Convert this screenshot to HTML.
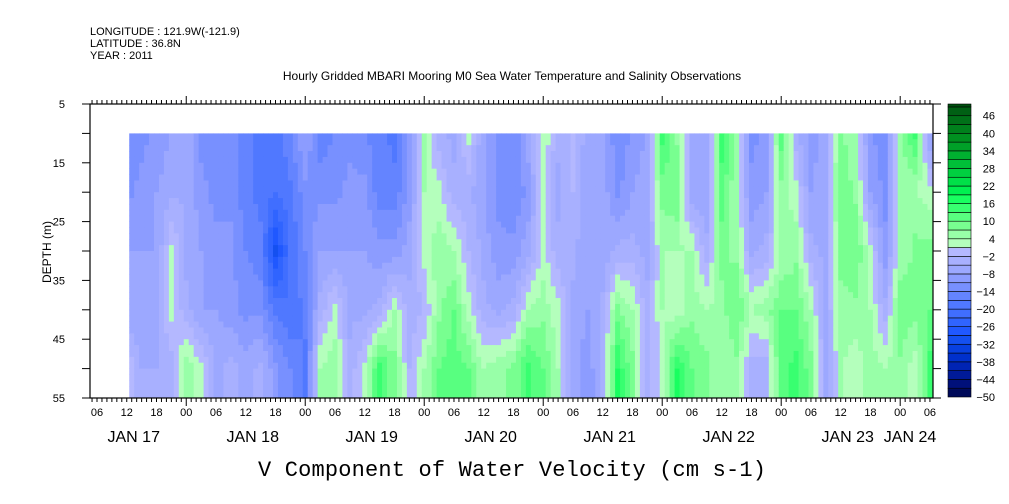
<!DOCTYPE html>
<html><head><meta charset="utf-8"><style>
body{margin:0;background:#fff;}
svg{display:block;font-family:"Liberation Sans",sans-serif;}
</style></head><body>
<svg id="chart" width="1009" height="504" viewBox="0 0 1009 504" xmlns="http://www.w3.org/2000/svg">
<text x="90" y="35" font-size="11">LONGITUDE : 121.9W(-121.9)</text>
<text x="90" y="47" font-size="11">LATITUDE : 36.8N</text>
<text x="90" y="59" font-size="11">YEAR : 2011</text>
<text x="512" y="80" font-size="12" text-anchor="middle">Hourly Gridded MBARI Mooring M0 Sea Water Temperature and Salinity Observations</text>
<text transform="translate(51,252) rotate(-90)" font-size="12" text-anchor="middle">DEPTH (m)</text>
<text x="512" y="476" font-size="22" font-family="Liberation Mono, monospace" text-anchor="middle" textLength="508">V Component of Water Velocity (cm s-1)</text>
<g id="cells"></g>
<g id="axes"></g>
<g id="cbar"></g>
</svg>
<script>
// hours since Jan 17 00:00, one column every 3 h
const colHours = [];
for (let i = 0; i < 55; i++) colHours.push(12 + 3 * i);
const depths = [10, 20, 30, 40, 50];
const v10 = [-14,-12,-10,-8,-6,-12,-14,-12,-16,-18,-20,-14,-8,-16,-14,-12,-14,-16,-18,-10,4,-4,-6,2,-8,-12,-14,-6,4,-4,-2,-6,-6,-14,-10,-8,14,6,-6,-8,14,6,-12,-10,12,-4,-10,-6,8,4,-10,-14,6,14,-8];
const v20 = [-12,-10,-8,-6,-5,-10,-12,-12,-16,-18,-20,-18,-12,-12,-12,-10,-10,-16,-16,-10,4,2,-4,-4,-8,-12,-14,-10,2,-6,-2,-8,-6,-12,-8,-6,8,10,-8,-8,12,4,-10,-8,6,2,-8,-6,10,6,-8,-12,4,4,2];
const v30 = [-8,-8,-8,2,-6,-8,-10,-10,-14,-16,-30,-20,-14,-8,-8,-8,-8,-10,-10,-6,2,6,4,-2,-6,-10,-10,-6,2,-4,-4,-8,-8,-4,-4,-6,4,4,4,-4,8,6,-6,-4,4,6,-4,-6,8,10,2,-10,4,8,8];
const v40 = [-8,-8,-6,2,-4,-8,-8,-10,-12,-12,-18,-20,-16,-4,2,-6,-6,-4,4,-4,-2,6,10,2,-4,-6,-4,4,6,2,-6,-8,-4,8,4,-4,4,2,6,4,6,10,4,6,10,10,4,-6,6,6,4,-4,10,8,10];
const v50 = [2,-5,-5,-4,6,2,-6,-4,-6,-4,-10,-14,-18,4,6,-4,2,14,8,-2,4,10,12,10,4,6,8,14,10,4,-6,-10,-4,16,8,-4,2,16,10,8,4,6,-4,-4,12,14,8,-6,4,2,6,4,6,2,14];
const rows = [v10, v20, v30, v40, v50];
const yTicks = [5, 15, 25, 35, 45, 55];
const dayLabels = ['JAN 17','JAN 18','JAN 19','JAN 20','JAN 21','JAN 22','JAN 23','JAN 24'];
const cbLabels = [-50,-44,-38,-32,-26,-20,-14,-8,-2,4,10,16,22,28,34,40,46];

const NS = 'http://www.w3.org/2000/svg';
const X0 = 90, X1 = 933, Y0 = 104, Y1 = 398;
const xs = h => 67.25 + 4.958 * h;
const ys = d => Y0 + (d - 5) * (Y1 - Y0) / 50;
const H0 = 12.5, H1 = (X1 - 67.25) / 4.958;

const palette = ['#000a5a','#00107a','#001a98','#0024b4','#0030cc','#0840e0','#1450f0','#2058ff','#3064ff','#406eff','#5078ff','#6484ff','#7890ff','#8c9cff','#9ca8ff','#a8b0ff','#b4b8ff','#b4ffbc','#98ffa8','#78ff90','#58ff80','#38ff70','#18ff60','#00f050','#00e048','#00d040','#00c038','#00b030','#00a028','#009020','#00801c','#007018','#006014','#005010'];
function color(v){
  let k = Math.floor((v + 50) / 3);
  k = Math.max(0, Math.min(palette.length - 1, k));
  return palette[k];
}
function mk(tag, attrs, parent){ const e = document.createElementNS(NS, tag); for (const k in attrs) e.setAttribute(k, attrs[k]); parent.appendChild(e); return e; }

const cells = document.getElementById('cells');
function valAt(i, d){
  if (d <= depths[0]) return rows[0][i];
  for (let k = 0; k < depths.length - 1; k++) if (d <= depths[k+1]) { const t = (d - depths[k]) / (depths[k+1] - depths[k]); return rows[k][i] + (rows[k+1][i] - rows[k][i]) * t; }
  return rows[rows.length-1][i];
}
function valHD(h, d){
  const f = (h - colHours[0]) / 3;
  let i = Math.floor(f);
  if (i < 0) return valAt(0, d);
  if (i >= colHours.length - 1) return valAt(colHours.length - 1, d);
  const t = f - i;
  return valAt(i, d) * (1 - t) + valAt(i + 1, d) * t;
}
for (let h = H0; h < H1; h += 1) {
  const hb = Math.min(H1, h + 1);
  for (let d = 10; d < 55; d += 1) {
    const r = mk('rect', {x: xs(h).toFixed(2), y: ys(d).toFixed(2), width: (xs(hb) - xs(h) + 0.4).toFixed(2), height: (ys(d+1) - ys(d) + 0.4).toFixed(2), fill: color(valHD(h + 0.5, d + 0.5))}, cells);
    
    
  }
}

const ax = document.getElementById('axes');
const frame = mk('rect', {x: X0, y: Y0, width: X1 - X0, height: Y1 - Y0, fill: 'none', stroke: '#000', 'stroke-width': 1.2}, ax);


for (let d = 5; d <= 55; d += 5) {
  const y = ys(d);
  mk('line', {x1: X0 - 8, x2: X0, y1: y, y2: y, stroke: '#000'}, ax);
  mk('line', {x1: X1, x2: X1 + 8, y1: y, y2: y, stroke: '#000'}, ax);
}
yTicks.forEach(d => {
  const t = mk('text', {x: 65, y: ys(d) + 4, 'font-size': 11, 'text-anchor': 'end'}, ax);
  t.textContent = d;
  
  
});
for (let h = 5; h <= 174; h++) {
  const x = xs(h);
  const big = h % 24 === 0;
  const len = big ? 8 : 4;
  mk('line', {x1: x, x2: x, y1: Y1, y2: Y1 + len, stroke: '#000'}, ax);
  mk('line', {x1: x, x2: x, y1: Y0, y2: Y0 - len, stroke: '#000'}, ax);
  if (h % 6 === 0) {
    const t = mk('text', {x: x, y: 416, 'font-size': 11, 'text-anchor': 'middle'}, ax);
    t.textContent = String(h % 24).padStart(2, '0');
    
    
  }
}
dayLabels.forEach((lab, i) => {
  const cx = i === 7 ? 910 : xs(12 + 24 * i) + 7;
  const t = mk('text', {x: cx, y: 442, 'font-size': 16, 'text-anchor': 'middle'}, ax);
  t.textContent = lab;
  
  
});

const cb = document.getElementById('cbar');
const CB0 = 104, CB1 = 397, cy = v => CB1 - (v + 50) * (CB1 - CB0) / 100;
for (let v = -50; v < 50; v += 3) {
  const top = cy(Math.min(v + 3, 50));
  const r = mk('rect', {x: 948, y: top, width: 23, height: cy(v) - top, fill: color(v + 0.5), stroke: '#000', 'stroke-width': 0.6}, cb);
  
  
}
cbLabels.forEach(v => {
  const t = mk('text', {x: 995, y: cy(v) + 4, 'font-size': 11, 'text-anchor': 'end'}, cb);
  t.textContent = v < 0 ? '\u2212' + Math.abs(v) : v;
  
  
});
</script>
</body></html>
